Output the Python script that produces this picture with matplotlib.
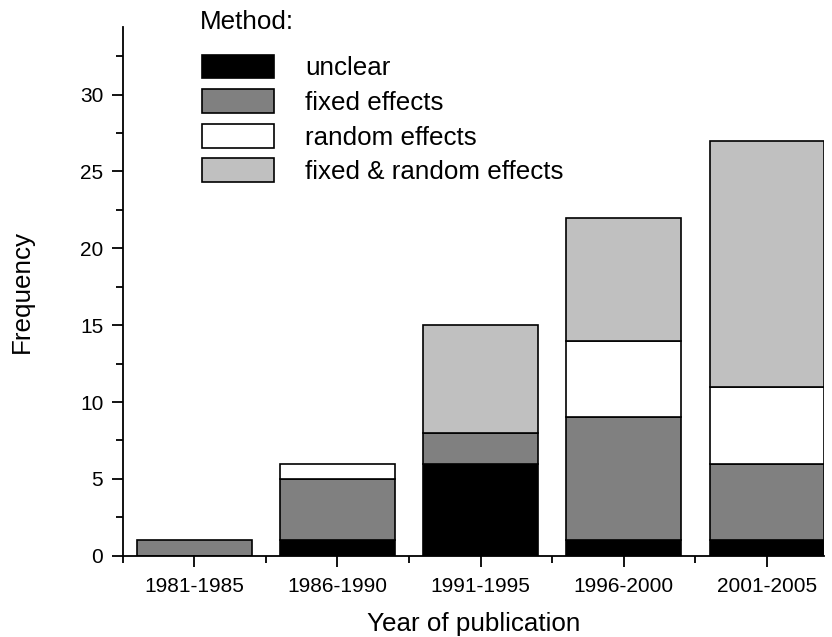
import matplotlib
matplotlib.use('Agg')
import matplotlib.pyplot as plt
import numpy as np
from matplotlib.patches import Patch
from matplotlib.ticker import MultipleLocator

plt.rcParams['font.family'] = ['Liberation Sans', 'DejaVu Sans']

# data
periods = ['1981-1985', '1986-1990', '1991-1995', '1996-2000', '2001-2005']
unclear = [0, 1, 6, 1, 1]
fixed = [1, 4, 2, 8, 5]
random_eff = [0, 1, 0, 5, 5]
fixed_random = [0, 0, 7, 8, 16]

methods = ['unclear', 'fixed effects', 'random effects', 'fixed & random effects']
colors = ['#000000', '#808080', '#ffffff', '#c0c0c0']

fig = plt.figure(figsize=(8.32, 6.37), dpi=100)
ax = fig.add_axes([0.1475, 0.1276, 0.843, 0.830])

x = np.arange(len(periods))
bottom = np.zeros(len(periods))
for vals, col in zip([unclear, fixed, random_eff, fixed_random], colors):
    vals = np.array(vals, dtype=float)
    mask = vals > 0
    ax.bar(x[mask], vals[mask], width=0.8, bottom=bottom[mask], color=col,
           edgecolor='black', linewidth=1.2, zorder=2)
    bottom += vals

ax.set_xlim(-0.5, 4.4)
ax.set_ylim(0, 34.4)
ax.set_xticks(x)
ax.set_xticklabels(periods)
ax.xaxis.set_minor_locator(MultipleLocator(1, offset=0.5))
ax.yaxis.set_major_locator(MultipleLocator(5))
ax.yaxis.set_minor_locator(MultipleLocator(2.5))

ax.spines['top'].set_visible(False)
ax.spines['right'].set_visible(False)
for sp in ['left', 'bottom']:
    ax.spines[sp].set_linewidth(1.3)

ax.tick_params(axis='both', which='major', direction='out', length=8, width=1.3,
               labelsize=15)
ax.tick_params(axis='y', which='major', pad=6)
ax.tick_params(axis='x', which='major', pad=7)
ax.tick_params(axis='both', which='minor', direction='out', length=5, width=1.3)

ax.set_xlabel('Year of publication', fontsize=18.7, labelpad=12)
ax.set_ylabel('Frequency', fontsize=18.7, labelpad=33)

# legend title drawn on its own so its gap can match
fig.text(200 / 832, 1 - 22 / 637, 'Method:', fontsize=18.7, ha='left', va='center')

handles = [Patch(facecolor=c, edgecolor='black', linewidth=1.2) for c in colors]
leg = ax.legend(handles, methods, loc='upper left',
                bbox_to_anchor=(0.113, 0.948), frameon=False, fontsize=18.7,
                handlelength=2.77, handleheight=1.04,
                handletextpad=1.2, labelspacing=0.34, borderaxespad=0,
                borderpad=0)

fig.savefig('out.png', dpi=100)
